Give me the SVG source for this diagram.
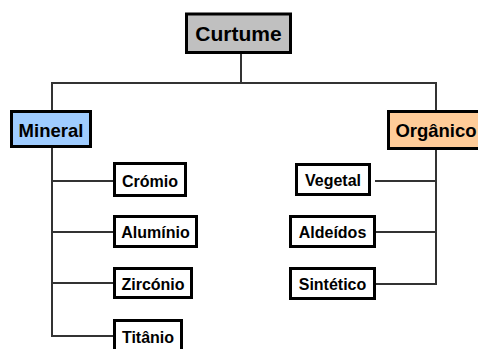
<svg xmlns="http://www.w3.org/2000/svg" width="478" height="349" viewBox="0 0 478 349">
  <style>
    .box { stroke: #000; stroke-width: 3; fill: #fff; }
    .root { fill: #c0c0c0; }
    .min { fill: #9fccff; }
    .org { fill: #ffcc99; }
    .lbl { font-family: "Liberation Sans", Arial, sans-serif; font-weight: bold; fill: #000; text-anchor: middle; }
    .leaf { font-size: 16px; }
    .cat { font-size: 18.5px; }
    .conn line { stroke: #333; stroke-width: 2; fill: none; }
  </style>
  <rect width="478" height="349" fill="#fff"/>

  <!-- connectors -->
  <g id="connectors" class="conn">
    <line x1="241" y1="54" x2="241" y2="83"/>
    <line x1="51" y1="83" x2="437" y2="83"/>
    <line x1="52" y1="83" x2="52" y2="336"/>
    <line x1="436" y1="83" x2="436" y2="284"/>
    <line x1="51" y1="181" x2="113" y2="181"/>
    <line x1="51" y1="232" x2="113" y2="232"/>
    <line x1="51" y1="283" x2="113" y2="283"/>
    <line x1="51" y1="336" x2="113" y2="336"/>
    <line x1="375" y1="181" x2="437" y2="181"/>
    <line x1="376" y1="232" x2="437" y2="232"/>
    <line x1="376" y1="284" x2="437" y2="284"/>
  </g>

  <g id="curtume">
    <rect class="box root" x="186.5" y="14" width="104" height="38.5"/>
    <text class="lbl" x="238.5" y="41" font-size="21">Curtume</text>
  </g>

  <g id="mineral">
    <rect class="box min" x="11.5" y="111.5" width="79" height="35"/>
    <text class="lbl cat" x="51" y="137">Mineral</text>
  </g>

  <g id="organico">
    <rect class="box org" x="388.5" y="111.5" width="94" height="37"/>
    <text class="lbl cat" x="436" y="137">Orgânico</text>
  </g>

  <g id="cromio">
    <rect class="box" x="114.5" y="163.5" width="71" height="32"/>
    <text class="lbl leaf" x="150" y="186.5">Crómio</text>
  </g>
  <g id="aluminio">
    <rect class="box" x="114.5" y="216.5" width="82" height="30"/>
    <text class="lbl leaf" x="155.5" y="238">Alumínio</text>
  </g>
  <g id="zirconio">
    <rect class="box" x="114.5" y="268.5" width="77" height="29"/>
    <text class="lbl leaf" x="153" y="290">Zircónio</text>
  </g>
  <g id="titanio">
    <rect class="box" x="114.5" y="320.5" width="67" height="40"/>
    <text class="lbl leaf" x="148" y="343">Titânio</text>
  </g>

  <g id="vegetal">
    <rect class="box" x="296.5" y="164.5" width="73" height="30"/>
    <text class="lbl leaf" x="333" y="186">Vegetal</text>
  </g>
  <g id="aldeidos">
    <rect class="box" x="290.5" y="216.5" width="84" height="30"/>
    <text class="lbl leaf" x="332.5" y="237.5">Aldeídos</text>
  </g>
  <g id="sintetico">
    <rect class="box" x="290.5" y="268.5" width="84" height="30"/>
    <text class="lbl leaf" x="332.5" y="289.5">Sintético</text>
  </g>
</svg>
